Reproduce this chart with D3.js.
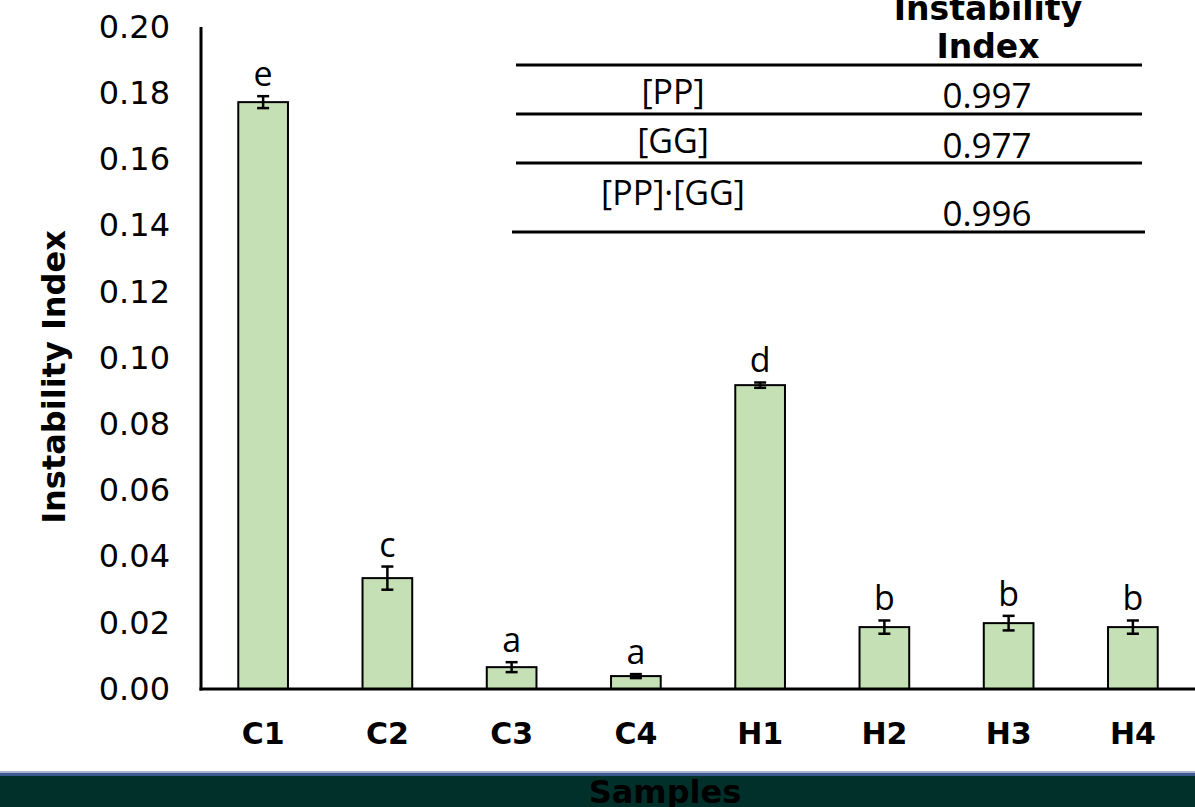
<!DOCTYPE html>
<html><head><meta charset="utf-8">
<script src="https://cdn.jsdelivr.net/npm/d3@7"></script>
<style>html,body{margin:0;padding:0;background:#fff;overflow:hidden}</style>
</head><body>
<svg id="chart" width="1195" height="807"></svg>
<script>
const categories = ["C1","C2","C3","C4","H1","H2","H3","H4"];
const values = [0.1773,0.0335,0.0066,0.0039,0.0918,0.0187,0.0199,0.0187];
const errors = [0.0018,0.0035,0.0015,0.0006,0.0008,0.0020,0.0022,0.0020];
const letters = ["e","c","a","a","d","b","b","b"];
const yTicks = [0,0.02,0.04,0.06,0.08,0.10,0.12,0.14,0.16,0.18,0.20];
const tableRows = ["[PP]","[GG]","[PP]·[GG]"];
const tableValues = ["0.997","0.977","0.996"];
const tableHeader = ["Instability","Index"];

const svg = d3.select("#chart");
const x = d3.scaleBand().domain(categories).range([201,1195]).paddingInner(0.6).paddingOuter(0.3);
const y = d3.scaleLinear().domain([0,0.2]).range([689,27]);

// y tick labels
const yAxis = d3.axisLeft(y).tickValues(yTicks).tickFormat(d3.format(".2f")).tickSize(0).tickPadding(31);
const ga = svg.append("g").attr("transform","translate(201,0)").call(yAxis);
ga.select(".domain").remove();
ga.selectAll("text").attr("font-family","DejaVu Sans, Verdana, sans-serif").attr("font-size",32).attr("fill","#000");

// x labels
const xAxis = d3.axisBottom(x).tickSize(0).tickPadding(0);
const gx = svg.append("g").attr("transform","translate(0,689)").call(xAxis);
gx.select(".domain").remove();
gx.selectAll("text").attr("font-family","DejaVu Sans, Verdana, sans-serif").attr("font-size",30)
  .attr("font-weight","bold").attr("fill","#000").attr("dy",null).attr("y",55);

// bars
svg.append("g").selectAll("rect").data(categories).join("rect")
  .attr("x",d=>x(d)).attr("width",x.bandwidth())
  .attr("y",(d,i)=>y(values[i])).attr("height",(d,i)=>y(0)-y(values[i]))
  .attr("fill","#c5e0b4").attr("stroke","#000").attr("stroke-width",2);

// error bars
const eg = svg.append("g").attr("stroke","#000").attr("stroke-width",2.5);
categories.forEach((c,i)=>{
  const cx = x(c)+x.bandwidth()/2;
  const y1 = y(values[i]+errors[i]), y2 = y(values[i]-errors[i]);
  eg.append("line").attr("x1",cx).attr("x2",cx).attr("y1",y1).attr("y2",y2);
  eg.append("line").attr("x1",cx-6).attr("x2",cx+6).attr("y1",y1).attr("y2",y1);
  eg.append("line").attr("x1",cx-6).attr("x2",cx+6).attr("y1",y2).attr("y2",y2);
});

// letters
svg.append("g").selectAll("text").data(categories).join("text")
  .attr("x",d=>x(d)+x.bandwidth()/2)
  .attr("y",(d,i)=>y(values[i]+errors[i])-10)
  .attr("text-anchor","middle").attr("font-family","Open Sans, sans-serif").attr("font-size",34)
  .attr("fill","#000").text((d,i)=>letters[i]);

// axis lines
svg.append("line").attr("x1",201).attr("x2",201).attr("y1",27).attr("y2",690.5).attr("stroke","#000").attr("stroke-width",3);
svg.append("line").attr("x1",199.5).attr("x2",1195).attr("y1",689).attr("y2",689).attr("stroke","#000").attr("stroke-width",3);

// y title
svg.append("text").attr("transform","translate(65,377) rotate(-90)").attr("text-anchor","middle")
  .attr("font-family","DejaVu Sans, Verdana, sans-serif").attr("font-weight","bold").attr("font-size",32)
  .attr("fill","#000").text("Instability Index");

// table
const tbl = svg.append("g");
tbl.selectAll("text.h").data(tableHeader).join("text").attr("class","h")
  .attr("x",988).attr("y",(d,i)=>20+i*38).attr("text-anchor","middle")
  .attr("font-family","DejaVu Sans, Verdana, sans-serif").attr("font-weight","bold").attr("font-size",33)
  .attr("fill","#000").text(d=>d);
const lineYs = [65,114,163,232];
tbl.selectAll("line").data(lineYs).join("line")
  .attr("x1",(d,i)=>i===3?512:516).attr("x2",(d,i)=>i===3?1145:1142)
  .attr("y1",d=>d).attr("y2",d=>d).attr("stroke","#000").attr("stroke-width",3);
const rowLabelY = [104,153,205];
const rowValY = [108,158,226];
tbl.selectAll("text.r").data(tableRows).join("text").attr("class","r")
  .attr("x",673).attr("y",(d,i)=>rowLabelY[i]).attr("text-anchor","middle")
  .attr("font-family","Open Sans, sans-serif").attr("font-size",34).attr("fill","#000").text(d=>d);
tbl.selectAll("text.v").data(tableValues).join("text").attr("class","v")
  .attr("x",987).attr("y",(d,i)=>rowValY[i]).attr("text-anchor","middle")
  .attr("font-family","Open Sans, sans-serif").attr("font-size",35).attr("fill","#000").text(d=>d);

// bottom band
svg.append("rect").attr("x",0).attr("y",771).attr("width",1195).attr("height",2).attr("fill","#aab5d0");
svg.append("rect").attr("x",0).attr("y",773).attr("width",1195).attr("height",3).attr("fill","#3b5a8f");
svg.append("rect").attr("x",0).attr("y",776).attr("width",1195).attr("height",31).attr("fill","#01302a");
svg.append("text").attr("x",665).attr("y",803).attr("text-anchor","middle")
  .attr("font-family","DejaVu Sans, Verdana, sans-serif").attr("font-weight","bold").attr("font-size",32)
  .attr("fill","#000").text("Samples");
</script>
</body></html>
